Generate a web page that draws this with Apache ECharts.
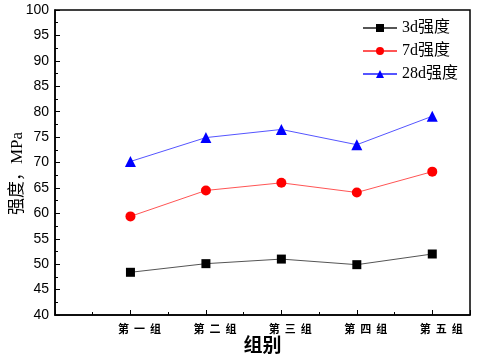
<!DOCTYPE html>
<html>
<head>
<meta charset="utf-8">
<script src="https://cdn.jsdelivr.net/npm/echarts@6/dist/echarts.min.js"></script>
<style>
  html, body { margin: 0; padding: 0; background: #fff; }
  #chart { width: 477px; height: 360px; }
</style>
</head>
<body>
<div id="chart"></div>
<script>
// group labels on the x axis (positions 1..5)
var groups = ['第  一  组', '第  二  组', '第  三  组', '第  四  组', '第  五  组'];
var groupPos = [1, 2, 3, 4, 5];

// strength, MPa
var strength3d = [48.4, 50.1, 51.0, 49.9, 52.0];
var strength7d = [59.4, 64.5, 66.0, 64.1, 68.2];
var strength28d = [70.2, 74.9, 76.5, 73.5, 79.1];

var seriesNames = ['3d强度', '7d强度', '28d强度'];

function pairs(vals) {
  return groupPos.map(function (p, i) { return [p, vals[i]]; });
}

var chart = echarts.init(document.getElementById('chart'));

var legendFont = 'Liberation Serif, "Noto Sans CJK SC", serif';

function lineSeries(name, vals, lineColor, markColor, symbol, size) {
  return {
    name: name,
    type: 'line',
    data: pairs(vals),
    symbol: symbol,
    symbolSize: size,
    lineStyle: { color: lineColor, width: 1 },
    itemStyle: { color: markColor },
    emphasis: { disabled: true }
  };
}

var option = {
  animation: false,
  backgroundColor: '#fff',
  grid: {
    left: 55, right: 7, top: 10, bottom: 45,
    outerBoundsMode: 'none',
    containLabel: false,
    show: true, borderColor: '#000', borderWidth: 1.5
  },
  legend: {
    orient: 'vertical',
    right: 14,
    top: 15,
    itemWidth: 34,
    itemHeight: 10,
    itemGap: 7,
    textStyle: { fontFamily: legendFont, fontSize: 16, color: '#000' },
    data: seriesNames
  },
  xAxis: {
    type: 'value',
    min: 0,
    max: 5.5,
    interval: 1,
    name: '组别',
    nameLocation: 'middle',
    nameGap: 20,
    nameMoveOverlap: false,
    nameTextStyle: { fontSize: 19, fontWeight: 'bold', color: '#000', fontFamily: '"Noto Sans CJK SC"', verticalAlign: 'top' },
    splitLine: { show: false },
    axisLine: { lineStyle: { color: '#000', width: 1.5 } },
    axisTick: { inside: true, length: 5, lineStyle: { color: '#000' } },
    minorTick: { show: true, splitNumber: 2, length: 3, lineStyle: { color: '#000' } },
    axisLabel: {
      color: '#000',
      fontSize: 11,
      fontWeight: 'bold',
      fontFamily: '"Noto Sans CJK SC"',
      margin: 8,
      padding: [0, 0, 0, 18],
      formatter: function (v) {
        var i = groupPos.indexOf(v);
        return i >= 0 ? groups[i] : '';
      }
    }
  },
  yAxis: {
    type: 'value',
    min: 40,
    max: 100,
    interval: 5,
    name: '强度，MPa',
    nameLocation: 'middle',
    nameRotate: 90,
    nameGap: 37,
    nameMoveOverlap: false,
    nameTextStyle: { fontSize: 17, color: '#000', fontFamily: 'Liberation Serif, "Noto Sans CJK SC"', verticalAlign: 'middle', padding: [0, 22, 0, 0] },
    splitLine: { show: false },
    axisLine: { lineStyle: { color: '#000', width: 1.5 } },
    axisTick: { inside: true, length: 5, lineStyle: { color: '#000' } },
    minorTick: { show: true, splitNumber: 2, length: 3, lineStyle: { color: '#000' } },
    axisLabel: { color: '#000', fontSize: 14, fontFamily: 'Liberation Sans, Arial', margin: 6 }
  },
  series: [
    lineSeries(seriesNames[0], strength3d, '#555555', '#000000', 'rect', 9),
    lineSeries(seriesNames[1], strength7d, '#ff5555', '#ff0000', 'circle', 10),
    lineSeries(seriesNames[2], strength28d, '#5555ff', '#0000ff', 'triangle', 11)
  ]
};

chart.setOption(option);
</script>
</body>
</html>
